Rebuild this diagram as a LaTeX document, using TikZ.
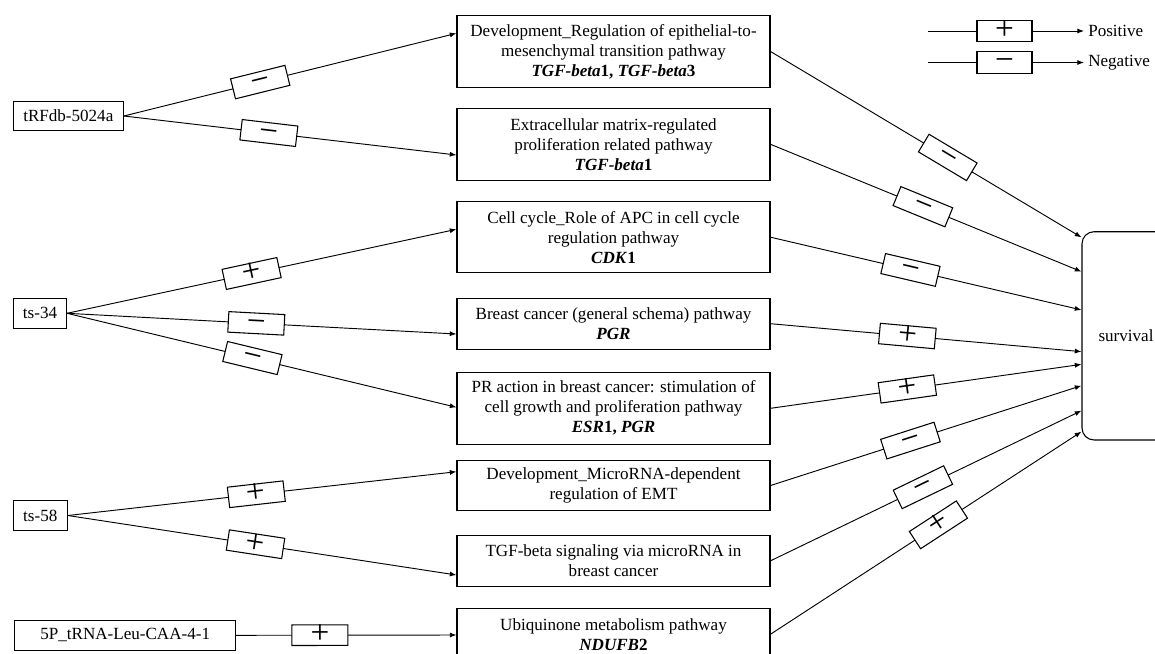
\documentclass[tikz,border=0pt]{standalone}
\usepackage{fontspec}
\setmainfont{Liberation Serif}
\usetikzlibrary{arrows.meta,calc}
\newcommand{\sym}[1]{\raisebox{-0.25em}[0pt][0pt]{#1}}
\begin{document}
\begin{tikzpicture}[x=0.75pt,y=-0.75pt,
  box/.style={draw, line width=0.8pt, font=\fontsize{12.8}{15}\selectfont, align=center, inner sep=2pt},
  src/.style={box, minimum height=22.4pt},
  mid/.style={box, minimum width=234.75pt},
  three/.style={mid, minimum height=53.6pt},
  two/.style={mid, minimum height=38pt},
  conn/.style={line width=0.7pt, -{Latex[length=5pt,width=3.8pt]}},
  plainline/.style={line width=0.7pt},
  sgn/.style={draw, line width=0.8pt, fill=white, sloped, minimum width=42pt, minimum height=15.4pt, inner sep=0pt, font=\fontsize{25}{25}\selectfont},
  lgbox/.style={draw, line width=0.8pt, minimum width=41.25pt, minimum height=16pt, inner sep=0pt, font=\fontsize{25}{25}\selectfont},
  lgtext/.style={anchor=west, inner sep=3pt, font=\fontsize{12.8}{15}\selectfont},
]
\useasboundingbox (0,0) rectangle (1155,653);
\clip (0,0) rectangle (1155,653);

% source nodes
\node[src, minimum width=82.5pt] (tRF) at (68.3,116) {tRFdb-5024a};
\node[src, minimum width=39.75pt] (ts34) at (40,313.3) {ts-34};
\node[src, minimum width=40.5pt] (ts58) at (40.3,515.5) {ts-58};
\node[src, minimum width=165.75pt] (p5) at (125.2,635.3) {5P\_tRNA-Leu-CAA-4-1};

% middle nodes
\node[three] (b1) at (613.5,51.5) {Development\_Regulation of epithelial-to-\\mesenchymal transition pathway\\{\bfseries\itshape TGF-beta}\textbf{1}\textbf{, }{\bfseries\itshape TGF-beta}\textbf{3}};
\node[three] (b2) at (613.5,144.3) {Extracellular matrix-regulated\\proliferation related pathway\\{\bfseries\itshape TGF-beta}\textbf{1}};
\node[three] (b3) at (613.5,237.2) {Cell cycle\_Role of APC in cell cycle\\regulation pathway\\{\bfseries\itshape CDK}\textbf{1}};
\node[two] (b4) at (613.5,323.7) {Breast cancer (general schema) pathway\\{\bfseries\itshape PGR}};
\node[three] (b5) at (613.5,408.3) {PR action in breast cancer: stimulation of\\cell growth and proliferation pathway\\{\bfseries\itshape ESR}\textbf{1, }{\bfseries\itshape PGR}};
\node[two] (b6) at (613.5,485.5) {Development\_MicroRNA-dependent\\regulation of EMT};
\node[two] (b7) at (613.5,560.8) {TGF-beta signaling via microRNA in\\breast cancer};
\node[two] (b8) at (613.5,634.2) {Ubiquinone metabolism pathway\\{\bfseries\itshape NDUFB}\textbf{2}};

% survival
\node[draw, line width=0.8pt, rounded corners=9pt, minimum width=66pt, minimum height=156.2pt, font=\fontsize{12.8}{15}\selectfont] (surv) at (1126,335.85) {survival};

% left connectors
\draw[conn] (tRF.east) -- node[sgn,pos=0.41]{\sym{−}} ($(b1.west)+(0,-18.2)$);
\draw[conn] (tRF.east) -- node[sgn,pos=0.436]{\sym{−}} ($(b2.west)+(0,10.7)$);
\draw[conn] (ts34.east) -- node[sgn,pos=0.474]{\sym{+}} ($(b3.west)+(0,-7.9)$);
\draw[conn] (ts34.east) -- node[sgn,pos=0.486]{\sym{−}} ($(b4.west)+(0,10.3)$);
\draw[conn] (ts34.east) -- node[sgn,pos=0.476]{\sym{−}} ($(b5.west)+(0,-1)$);
\draw[conn] (ts58.east) -- node[sgn,pos=0.485]{\sym{+}} ($(b6.west)+(0,-13.8)$);
\draw[conn] (ts58.east) -- node[sgn,pos=0.483]{\sym{+}} ($(b7.west)+(0,14.2)$);
\draw[conn] (p5.east) -- node[sgn,pos=0.38]{\sym{+}} ($(b8.west)+(0,0.8)$);

% right connectors
\draw[conn] (b1.east) -- node[sgn,pos=0.57]{\sym{−}} ($(surv.west)+(0,-98.5)$);
\draw[conn] (b2.east) -- node[sgn,pos=0.49]{\sym{−}} ($(surv.west)+(0,-64.2)$);
\draw[conn] (b3.east) -- node[sgn,pos=0.45]{\sym{−}} ($(surv.west)+(0,-25.9)$);
\draw[conn] (b4.east) -- node[sgn,pos=0.44]{\sym{+}} ($(surv.west)+(0,15.8)$);
\draw[conn] (b5.east) -- node[sgn,pos=0.44]{\sym{+}} ($(surv.west)+(0,28.5)$);
\draw[conn] (b6.east) -- node[sgn,pos=0.45]{\sym{−}} ($(surv.west)+(0,49.8)$);
\draw[conn] (b7.east) -- node[sgn,pos=0.49]{\sym{−}} ($(surv.west)+(0,74.8)$);
\draw[conn] (b8.east) -- node[sgn,pos=0.54]{\sym{+}} ($(surv.west)+(0,95.8)$);

% legend
\coordinate (lg1) at (928.3,31);
\coordinate (lg2) at (928.3,62.5);
\node[lgbox] (lp) at (1004.5,31) {\sym{+}};
\node[lgbox] (ln) at (1004.5,62.5) {\sym{−}};
\node[lgtext] (tp) at (1084,31) {Positive};
\node[lgtext] (tn) at (1084,62.5) {Negative};
\draw[plainline] (lg1) -- (lp.west);
\draw[plainline] (lg2) -- (ln.west);
\draw[conn] (lp.east) -- (tp.west);
\draw[conn] (ln.east) -- (tn.west);
\end{tikzpicture}
\end{document}
